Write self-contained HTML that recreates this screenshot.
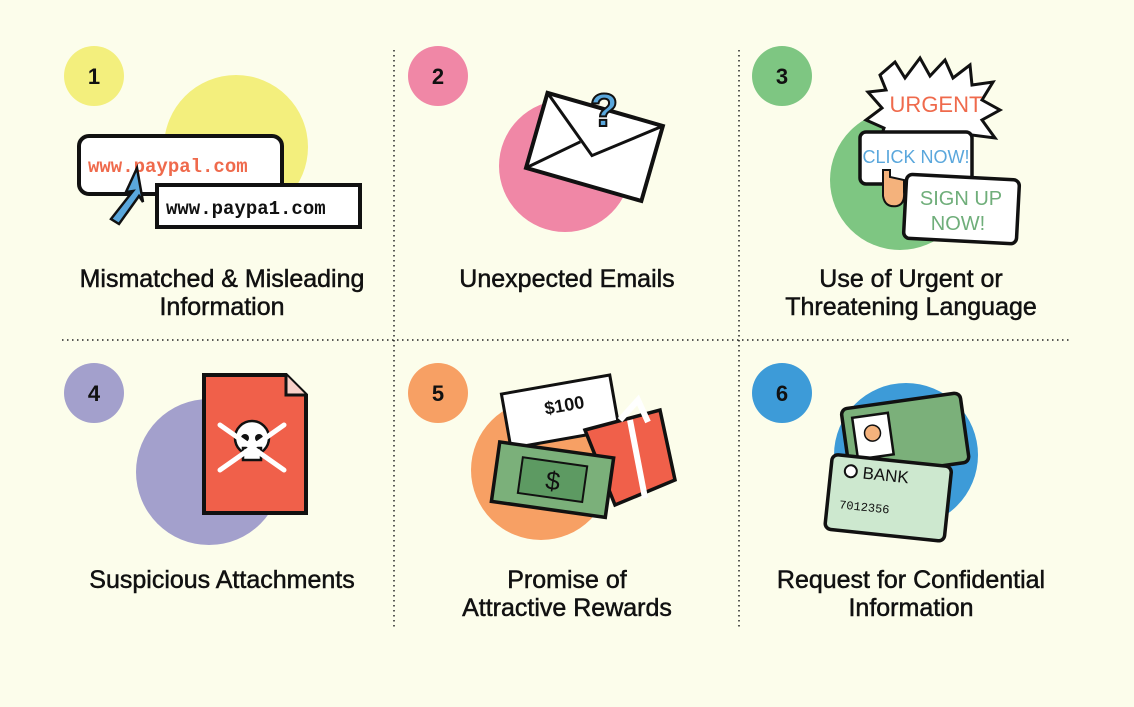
<!DOCTYPE html>
<html><head><meta charset="utf-8"><style>
html,body{margin:0;padding:0;background:#fcfdeb;}
svg{display:block}
.lb{font-family:"Liberation Sans",sans-serif;font-size:25px;fill:#111;text-anchor:middle;stroke:#111;stroke-width:0.5}
.n{font-family:"Liberation Sans",sans-serif;font-size:22px;font-weight:bold;fill:#111;text-anchor:middle}
.h{font-family:"Liberation Mono",monospace;font-weight:bold;}
</style></head><body>
<svg width="1134" height="707" viewBox="0 0 1134 707" xmlns="http://www.w3.org/2000/svg">
<rect width="1134" height="707" fill="#fcfdeb"/>
<g stroke="#222" stroke-width="1.5" stroke-dasharray="1.5 3.5">
<line x1="394" y1="50" x2="394" y2="628"/>
<line x1="739" y1="50" x2="739" y2="628"/>
<line x1="62" y1="340" x2="1072" y2="340"/>
</g>
<circle cx="236" cy="147" r="72" fill="#f3ef7d"/>
<circle cx="565" cy="166" r="66" fill="#f087a6"/>
<circle cx="900" cy="180" r="70" fill="#7ec682"/>
<circle cx="209" cy="472" r="73" fill="#a3a0cc"/>
<circle cx="541" cy="470" r="70" fill="#f7a064"/>
<circle cx="906" cy="455" r="72" fill="#3d9bd8"/>
<circle cx="94" cy="76" r="30" fill="#f3ef7d"/><text class="n" x="94" y="84">1</text>
<circle cx="438" cy="76" r="30" fill="#f087a6"/><text class="n" x="438" y="84">2</text>
<circle cx="782" cy="76" r="30" fill="#7ec682"/><text class="n" x="782" y="84">3</text>
<circle cx="94" cy="393" r="30" fill="#a3a0cc"/><text class="n" x="94" y="401">4</text>
<circle cx="438" cy="393" r="30" fill="#f7a064"/><text class="n" x="438" y="401">5</text>
<circle cx="782" cy="393" r="30" fill="#3d9bd8"/><text class="n" x="782" y="401">6</text>
<!-- panel1 -->
<rect x="79" y="136" width="203" height="58" rx="10" fill="#fff" stroke="#111" stroke-width="4"/>
<text class="h" x="88" y="172" font-size="19" fill="#ef6a4c">www.paypal.com</text>
<rect x="157" y="185" width="203" height="42" fill="#fff" stroke="#111" stroke-width="4"/>
<text class="h" x="166" y="214" font-size="19" fill="#111">www.paypa1.com</text>
<polygon points="137,168 126,192 133,191 111,219 119,224 139,196 143,202" fill="#5aa7dc" stroke="#111" stroke-width="2.5"/>
<!-- panel2 -->
<g transform="rotate(16 595 145)">
<rect x="535" y="108" width="120" height="78" fill="#fff" stroke="#111" stroke-width="4"/>
<polyline points="535,108 595,156 655,108" fill="none" stroke="#111" stroke-width="3"/>
<polyline points="535,186 580,146 M610,146 655,186" fill="none" stroke="#111" stroke-width="3"/>
</g>
<text x="604" y="126" font-family="Liberation Sans,sans-serif" font-weight="bold" font-size="46" fill="#5aa7dc" stroke="#111" stroke-width="2" text-anchor="middle">?</text>
<!-- panel3 -->
<polygon points="880,75 895,62 905,78 920,58 930,76 945,60 953,78 970,65 972,85 993,82 982,100 1000,110 982,120 995,138 972,135 968,152 948,140 936,156 922,140 905,155 898,138 878,145 884,128 866,120 882,108 868,92 886,90" fill="#fff" stroke="#111" stroke-width="3"/>
<text x="936" y="112" font-family="Liberation Sans,sans-serif" font-size="22" fill="#ef6a4c" text-anchor="middle">URGENT</text>
<rect x="860" y="132" width="112" height="52" rx="6" fill="#fff" stroke="#111" stroke-width="3.5"/>
<text x="916" y="163" font-family="Liberation Sans,sans-serif" font-size="18" fill="#5aa7dc" text-anchor="middle">CLICK NOW!</text>
<path d="M883,170 v26 q2,12 14,10 q8,-2 7,-14 v-12 l-14,-3 v-7 z" fill="#f4b27c" stroke="#111" stroke-width="2"/>
<rect x="905" y="177" width="113" height="64" rx="6" fill="#fff" stroke="#111" stroke-width="3.5" transform="rotate(3 960 209)"/>
<text x="961" y="205" font-family="Liberation Sans,sans-serif" font-size="20" fill="#6fae7a" text-anchor="middle">SIGN UP</text>
<text x="958" y="230" font-family="Liberation Sans,sans-serif" font-size="20" fill="#6fae7a" text-anchor="middle">NOW!</text>
<!-- panel4 -->
<path d="M204,375 h82 l20,20 v118 h-102 z" fill="#f0604a" stroke="#111" stroke-width="4"/>
<path d="M286,375 v20 h20" fill="#f8d0c8" stroke="#111" stroke-width="3"/>
<circle cx="252" cy="438" r="17" fill="#fff" stroke="#111" stroke-width="2.5"/>
<rect x="243" y="448" width="18" height="12" fill="#fff" stroke="#111" stroke-width="2.5"/>
<circle cx="245" cy="438" r="4" fill="#111"/><circle cx="259" cy="438" r="4" fill="#111"/>
<g stroke="#fff" stroke-width="5" stroke-linecap="round"><line x1="220" y1="425" x2="284" y2="470"/><line x1="284" y1="425" x2="220" y2="470"/></g>
<!-- panel5 -->
<g transform="rotate(-10 555 410)">
<rect x="505" y="385" width="110" height="55" fill="#fff" stroke="#111" stroke-width="3"/>
<text x="545" y="413" font-family="Liberation Sans,sans-serif" font-weight="bold" font-size="18" fill="#111">$100</text>
</g>
<polygon points="585,430 660,410 675,480 615,505" fill="#f0604a" stroke="#111" stroke-width="3.5"/>
<path d="M620,420 l18,-20 l10,22 M630,420 l15,78" stroke="#fff" stroke-width="6" fill="none"/>
<g transform="rotate(8 555 480)">
<rect x="495" y="450" width="115" height="60" fill="#7bb07a" stroke="#111" stroke-width="3.5"/>
<rect x="520" y="462" width="65" height="36" fill="#5d9a62" stroke="#111" stroke-width="2"/>
<text x="553" y="490" font-family="Liberation Sans,sans-serif" font-size="26" fill="#111" text-anchor="middle">$</text>
</g>
<!-- panel6 -->
<g transform="rotate(-8 895 435)">
<rect x="845" y="402" width="120" height="70" rx="6" fill="#7bb07a" stroke="#111" stroke-width="3.5"/>
<rect x="855" y="412" width="36" height="42" fill="#fff" stroke="#111" stroke-width="2.5"/>
<circle cx="873" cy="430" r="8" fill="#f4b27c" stroke="#111" stroke-width="1.5"/>
</g>
<g transform="rotate(6 885 500)">
<rect x="828" y="460" width="120" height="75" rx="6" fill="#cde8cf" stroke="#111" stroke-width="3.5"/>
<circle cx="848" cy="475" r="6" fill="#fff" stroke="#111" stroke-width="2"/>
<text x="860" y="481" font-family="Liberation Sans,sans-serif" font-size="17" fill="#111">BANK</text>
<text x="840" y="513" font-family="Liberation Mono,monospace" font-size="12" fill="#111">7012356</text>
</g>
<!-- labels -->
<text class="lb" x="222" y="287">Mismatched &amp; Misleading</text>
<text class="lb" x="222" y="315">Information</text>
<text class="lb" x="567" y="287">Unexpected Emails</text>
<text class="lb" x="911" y="287">Use of Urgent or</text>
<text class="lb" x="911" y="315">Threatening Language</text>
<text class="lb" x="222" y="588">Suspicious Attachments</text>
<text class="lb" x="567" y="588">Promise of</text>
<text class="lb" x="567" y="616">Attractive Rewards</text>
<text class="lb" x="911" y="588">Request for Confidential</text>
<text class="lb" x="911" y="616">Information</text>
</svg>
</body></html>
